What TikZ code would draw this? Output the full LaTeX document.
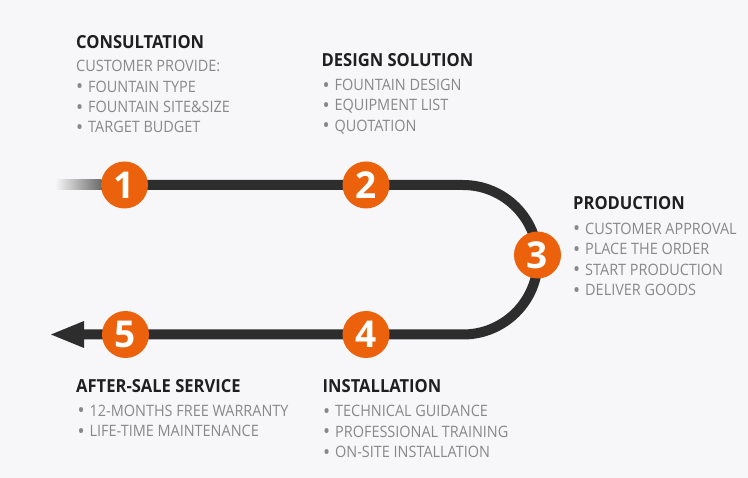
\documentclass[tikz,border=0pt]{standalone}
\usepackage{fontspec}
\setmainfont{Open Sans}[FakeStretch=0.92]
\newfontfamily\numfont{Open Sans}
\definecolor{bgc}{RGB}{247,247,249}
\definecolor{trackc}{RGB}{45,45,45}
\definecolor{orangec}{RGB}{236,98,12}
\definecolor{titlec}{RGB}{31,31,31}
\definecolor{itemc}{RGB}{136,136,136}
\newcommand{\itembul}{\makebox[12pt][l]{\raisebox{-0.1em}{\scalebox{1.3}{•}}}}
\tikzset{
  track/.style={draw=trackc, line width=10pt},
  stepcirc/.style={circle, fill=orangec, minimum size=47pt, inner sep=0pt, text=white, font=\numfont\bfseries\fontsize{37}{37}\selectfont},
  titletext/.style={anchor=base west, inner sep=0pt, text=titlec, font=\bfseries\fontsize{18}{21}\selectfont},
  itemtext/.style={anchor=base west, inner sep=0pt, text=itemc, align=left, font=\fontsize{15.7}{20.4}\selectfont},
}
\begin{document}
\begin{tikzpicture}[x=1pt,y=-1pt]
\fill[bgc] (0,0) rectangle (748,478);
\useasboundingbox (0,0) rectangle (748,478);
% step positions
\coordinate (c1) at (124.5,185);
\coordinate (c2) at (366,185);
\coordinate (c3) at (537.5,255);
\coordinate (c4) at (366,334.5);
\coordinate (c5) at (125.5,334.5);
\coordinate (fadeA) at (55,185);
\coordinate (fadeB) at (101,185);
\coordinate (arcTop) at (463,185);
\coordinate (tipBase) at (84,334.5);
\coordinate (tip) at (51,334.5);
% fading start
\shade[left color=bgc, right color=trackc!70] ([yshift=-5pt]fadeA) rectangle ([yshift=5pt]fadeB);
% track
\draw[track] (fadeB) -- (arcTop) arc[start angle=-90, end angle=90, radius=74.75] -- (tipBase);
\fill[trackc] (tip) -- ([yshift=-13.5pt]tipBase) -- ([yshift=13.5pt]tipBase) -- cycle;
% step circles
\node[stepcirc] (s1) at (c1) {1};
\node[stepcirc] (s2) at (c2) {2};
\node[stepcirc] (s3) at (c3) {3};
\node[stepcirc] (s4) at (c4) {4};
\node[stepcirc] (s5) at (c5) {5};
% texts (item blocks anchored at the baseline of their last line)
\node[titletext] (t1) at (76,49) {CONSULTATION};
\node[itemtext] (i1) at (76,133) {CUSTOMER PROVIDE:\\\itembul FOUNTAIN TYPE\\\itembul FOUNTAIN SITE\&SIZE\\\itembul TARGET BUDGET};
\node[titletext] (t2) at (321.5,66.7) {DESIGN SOLUTION};
\node[itemtext] (i2) at (322.5,131.3) {\itembul FOUNTAIN DESIGN\\\itembul EQUIPMENT LIST\\\itembul QUOTATION};
\node[titletext] (t3) at (573,210) {PRODUCTION};
\node[itemtext] (i3) at (573,295.5) {\itembul CUSTOMER APPROVAL\\\itembul PLACE THE ORDER\\\itembul START PRODUCTION\\\itembul DELIVER GOODS};
\node[titletext] (t5) at (76,392.3) {AFTER-SALE SERVICE};
\node[itemtext] (i5) at (77.5,436.7) {\itembul 12-MONTHS FREE WARRANTY\\\itembul LIFE-TIME MAINTENANCE};
\node[titletext] (t4) at (322.5,392.3) {INSTALLATION};
\node[itemtext] (i4) at (323,457.5) {\itembul TECHNICAL GUIDANCE\\\itembul PROFESSIONAL TRAINING\\\itembul ON-SITE INSTALLATION};
\end{tikzpicture}
\end{document}
